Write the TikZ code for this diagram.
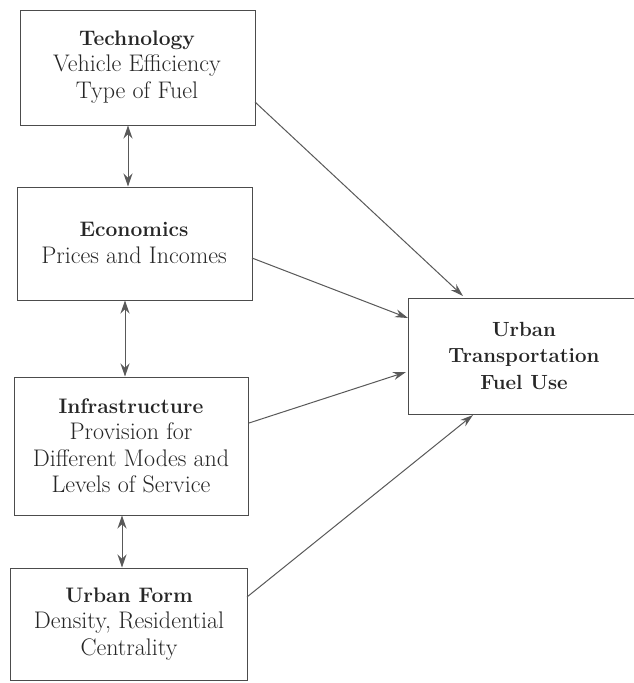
\documentclass[tikz,border=0pt]{standalone}
\usetikzlibrary{arrows.meta}
\newcommand\hd[1]{{\fontsize{21}{26.5}\selectfont\bfseries #1}}
\begin{document}
\begin{tikzpicture}[x=1pt,y=-1pt,
  box/.style={draw=black!70, line width=1pt, inner sep=0pt},
  lbl/.style={align=center, text=black!85, font=\fontsize{24}{26.5}\selectfont},
  conn/.style={draw=black!65, line width=1pt, -{Stealth[length=13pt,width=8pt]}},
  dbl/.style={draw=black!65, line width=1pt, {Stealth[length=13pt,width=9pt]}-{Stealth[length=13pt,width=9pt]}}]
\useasboundingbox[fill=white] (0,0) rectangle (634,683);
\begin{scope}
\clip (0,0) rectangle (634,683);
\node[box, minimum width=235pt, minimum height=115pt] (tech) at (137.5,67.5) {};
\node[box, minimum width=235pt, minimum height=113pt] (econ) at (134.5,243.5) {};
\node[box, minimum width=234pt, minimum height=138pt] (infra) at (131,446) {};
\node[box, minimum width=237pt, minimum height=112pt] (form) at (128.5,624) {};
\node[box, minimum width=240pt, minimum height=116pt] (fuel) at (528,356) {};
\end{scope}
\node[lbl] at (137,67) {\hd{Technology}\\Vehicle Efficiency\\Type of Fuel};
\node[lbl] at (134,243) {\hd{Economics}\\Prices and Incomes};
\node[lbl] at (131,446) {\hd{Infrastructure}\\Provision for\\Different Modes and\\Levels of Service};
\node[lbl] at (129,624) {\hd{Urban Form}\\Density, Residential\\Centrality};
\node[lbl, font=\bfseries\fontsize{20.5}{26.5}\selectfont] at (524,356) {Urban\\Transportation\\Fuel Use};
\coordinate (t1) at (255,102);
\coordinate (e1) at (252,258);
\coordinate (i1) at (249,423);
\coordinate (f1) at (247,597);
\coordinate (u1) at (463,296);
\coordinate (u2) at (408,318);
\coordinate (u3) at (406,372);
\coordinate (u4) at (473,415);
\draw[conn] (t1) -- (u1);
\draw[conn] (e1) -- (u2);
\draw[conn] (i1) -- (u3);
\draw[conn] (f1) -- (u4);
\draw[dbl] (tech.south -| 128,0) -- (econ.north -| 128,0);
\draw[dbl] (econ.south -| 125,0) -- (infra.north -| 125,0);
\draw[dbl] (infra.south -| 122,0) -- (form.north -| 122,0);
\end{tikzpicture}
\end{document}
